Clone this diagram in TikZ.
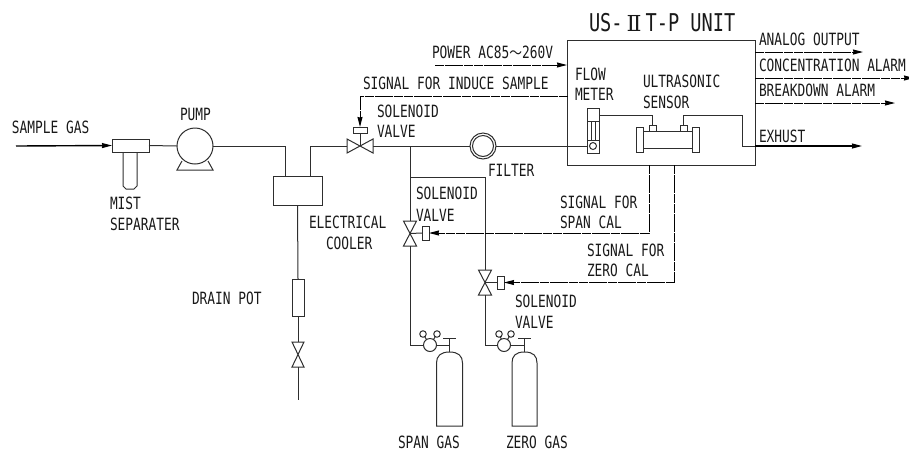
\documentclass[tikz,border=0pt]{standalone}
\usepackage{fontspec}
\usetikzlibrary{arrows.meta,calc}
\setmainfont{DejaVu Sans Mono}[FakeStretch=0.76]
\newfontfamily\cjkf{Noto Sans CJK JP}[FakeStretch=0.85]
\newfontfamily\romf{DejaVu Serif}
\definecolor{ink}{gray}{0.18}
\tikzset{
  lw/.style={line width=1pt,draw=ink},
  thick line/.style={line width=1.4pt,draw=black},
  sig/.style={line width=1pt,draw=black,dash pattern=on 9pt off 0.7pt},
  tip/.style={-{Stealth[length=10pt,width=5pt,inset=0.5pt]}},
  part/.style={lw,rectangle,inner sep=0pt,outer sep=0pt,fill=white},
  round part/.style={lw,circle,inner sep=0pt,outer sep=0pt,minimum size=#1,fill=white},
  lbl/.style={anchor=west,inner sep=0pt,outer sep=0pt,text=black!90,
     font=\fontsize{16.9pt}{17pt}\selectfont,text height=12pt,text depth=0pt},
  ttl/.style={anchor=west,inner sep=0pt,outer sep=0pt,text=black!90,
     font=\fontsize{24.5pt}{25pt}\selectfont,text height=17pt,text depth=0pt},
}
% horizontal and vertical valves
\newcommand{\valveH}[4]{\node[inner sep=0pt,outer sep=0pt,minimum width=#4,minimum height=14pt] (#1) at (#2,#3) {};
  \draw[lw] (#1.north west)--(#1.south west)--(#1.north east)--(#1.south east)--cycle;}
\newcommand{\valveV}[4]{\node[inner sep=0pt,outer sep=0pt,minimum width=#4,minimum height=25pt] (#1) at (#2,#3) {};
  \draw[lw] (#1.north west)--(#1.north east)--(#1.south west)--(#1.south east)--cycle;}
% bottle: regulator at x,345 with named parts
\newcommand{\bottle}[6]{% prefix, reg x, gauge L x, gauge R x, stem x, half width
  \node[round part=13pt] (#1reg) at (#2,345) {};
  \node[round part=6.5pt] (#1gl) at (#3,334) {};
  \node[round part=6.5pt] (#1gr) at (#4,334) {};
  \draw[lw] (#1gl) -- (#1reg);
  \draw[lw] (#1gr) -- (#1reg);
  \coordinate (#1top) at (#5,338);
  \coordinate (#1neck) at (#5,352);
  \coordinate (#1joint) at (#5,345);
  \draw[lw] (#1reg.east) -- (#1joint);
  \draw[lw] (#1top) -- (#1neck);
  \draw[lw] ($(#1top)+(-6.5,0)$) -- ($(#1top)+(6.5,0)$);
  \draw[lw] (#1neck) .. controls ($(#1neck)+(-9,0)$) and ($(#1neck)+(-#6,4)$) .. ($(#1neck)+(-#6,11)$)
     -- ($(#1neck)+(-#6,74)$) -- ($(#1neck)+(#6,74)$) -- ($(#1neck)+(#6,11)$)
     .. controls ($(#1neck)+(#6,4)$) and ($(#1neck)+(9,0)$) .. (#1neck);
}
\begin{document}
\begin{tikzpicture}[x=1pt,y=-1pt]
\useasboundingbox (0,0) rectangle (909,451);

% --- left train
\coordinate (gasin) at (16,146);
\node[part,minimum width=37pt,minimum height=13pt] (mist) at (130.5,145.5) {};
\draw[lw] (123,152) -- (123,186) -- (126,189) -- (134,189) -- (137,186) -- (137,152);
\draw[thick line,tip] (gasin) -- (mist.west);

\node[round part=36pt] (pump) at (195,146) {};
\draw[lw] (182,161) -- (177,170) -- (213,170) -- (208,161);
\draw[lw] (mist.east) -- (pump.west);

\node[part,minimum width=49pt,minimum height=29pt] (cooler) at (297.5,190.5) {};
\coordinate (coolerin) at (285,176);
\coordinate (coolerout) at (310,176);
\valveH{v1}{360}{146}{26pt}
\draw[lw] (pump.east) -| (coolerin);
\draw[lw] (coolerout) |- (v1.west);

\node[part,minimum width=12pt,minimum height=37pt] (pot) at (298,297.5) {};
\valveV{vd}{298}{354.5}{12pt}
\coordinate (drainend) at (298,400);
\draw[lw] (cooler.south) -- (pot.north);
\draw[lw] (pot.south) -- (vd.north);
\draw[lw] (vd.south) -- (drainend);

% --- unit
\node[part,minimum width=188pt,minimum height=125pt] (unit) at (661,102.5) {};

% --- valve 1 actuator
\node[part,minimum width=14pt,minimum height=6pt] (a1) at (360,130) {};
\draw[lw] (a1.south) -- (v1.center);
\coordinate (s1) at (568,96);
\draw[sig,tip] (s1) -| (a1.north);

% --- filter and flow meter
\node[round part=26pt] (filter) at (483,146) {};
\node[round part=21pt] (filteri) at (483,146) {};
\node[part,minimum width=12pt,minimum height=45pt] (fm) at (593,130.5) {};
\draw[lw] (587,121) -- (599,121);
\draw[lw] (587,140) -- (599,140);
\draw[lw] (591,121) -- (591,140);
\draw[lw] (595,121) -- (595,140);
\node[round part=7pt] (fmc) at (593,146) {};
\coordinate (fmin) at (587,146);
\coordinate (fmout) at (599,115);
\draw[lw] (v1.east) -- (filter.west);
\draw[lw] (filter.east) -- (fmin);

% --- sensor
\node[part,minimum width=49pt,minimum height=17pt] (sens) at (667.5,139.5) {};
\node[part,minimum width=7pt,minimum height=25pt] (fl) at (639.5,139.5) {};
\node[part,minimum width=7pt,minimum height=25pt] (fr) at (695.5,139.5) {};
\node[part,minimum width=7pt,minimum height=6pt] (p1) at (652.5,128) {};
\node[part,minimum width=7pt,minimum height=6pt] (p2) at (683.5,128) {};
\coordinate (ex) at (862,146);
\coordinate (exb) at (742,115);
\coordinate (exc) at (742,146);
\draw[lw] (fmout) -| (p1.north);
\draw[lw] (p2.north) |- (exb) -- (exc) -- (unit.east |- exc);
\draw[thick line,tip] (unit.east |- exc) -- (ex);

% --- outputs and power
\coordinate (po) at (435,65);
\draw[sig,tip] (po) -- (unit.west |- po);
\coordinate (o1) at (863,52);
\coordinate (o2) at (914,78);
\coordinate (o3) at (895,103);
\draw[sig,tip] (unit.east |- o1) -- (o1);
\draw[sig,tip] (unit.east |- o2) -- (o2);
\draw[sig,tip] (unit.east |- o3) -- (o3);

% --- branch and lower valves
\coordinate (bj) at (410,146);
\coordinate (bt) at (410,177);
\coordinate (bc) at (485,177);
\valveV{v2}{410}{233.5}{13pt}
\valveV{v3}{485}{282.5}{13pt}
\node[part,minimum width=7pt,minimum height=14pt] (a2) at (425.5,233) {};
\node[part,minimum width=7pt,minimum height=13pt] (a3) at (500.5,282.5) {};
\draw[lw] (v2.center) -- (a2.west);
\draw[lw] (v3.center) -- (a3.west);
\draw[lw] (bj) -- (v2.north);
\draw[lw] (bt) -- (bc) -- (v3.north);
\coordinate (u2) at (649,165);
\coordinate (u3) at (674,165);
\draw[sig,tip] (u2) |- (a2.east);
\draw[sig,tip] (u3) |- (a3.east);

\bottle{sp}{430}{423}{437}{449.5}{13}
\bottle{ze}{504}{499}{511}{524.5}{12.5}
\draw[lw] (v2.south) |- (spreg.west);
\draw[lw] (v3.south) |- (zereg.west);

% --- labels
\node[lbl] (t1) at (12,127) {SAMPLE GAS};
\node[lbl] (t2) at (180,114) {PUMP};
\node[lbl] (t3) at (110,203) {MIST};
\node[lbl] (t4) at (110,224) {SEPARATER};
\node[lbl] (t5) at (309,222) {ELECTRICAL};
\node[lbl] (t6) at (326,243) {COOLER};
\node[lbl] (t7) at (192,298) {DRAIN POT};
\node[lbl] (t8) at (432,52) {POWER AC85{\cjkf\fontsize{15pt}{15pt}\selectfont ～}260V};
\node[lbl] (t9) at (363,83) {SIGNAL FOR INDUCE SAMPLE};
\node[lbl] (t10) at (377,111) {SOLENOID};
\node[lbl] (t11) at (377,131) {VALVE};
\node[lbl] (t12) at (488,170) {FILTER};
\node[lbl] (t13) at (575,74) {FLOW};
\node[lbl] (t14) at (575,94) {METER};
\node[lbl] (t15) at (643,81) {ULTRASONIC};
\node[lbl] (t16) at (643,102) {SENSOR};
\node[ttl] (t17) at (589,23) {US-\kern4pt{\romf\fontsize{22pt}{22pt}\selectfont Ⅱ}\kern4pt T-P UNIT};
\node[lbl] (t18) at (759,39) {ANALOG OUTPUT};
\node[lbl] (t19) at (759,65) {CONCENTRATION ALARM};
\node[lbl] (t20) at (759,90) {BREAKDOWN ALARM};
\node[lbl] (t21) at (759,136) {EXHUST};
\node[lbl] (t22) at (416,193) {SOLENOID};
\node[lbl] (t23) at (416,215) {VALVE};
\node[lbl] (t24) at (560,202) {SIGNAL FOR};
\node[lbl] (t25) at (560,222) {SPAN CAL};
\node[lbl] (t26) at (587,250) {SIGNAL FOR};
\node[lbl] (t27) at (587,270) {ZERO CAL};
\node[lbl] (t28) at (515,301) {SOLENOID};
\node[lbl] (t29) at (515,322) {VALVE};
\node[lbl] (t30) at (398,442) {SPAN GAS};
\node[lbl] (t31) at (506,442) {ZERO GAS};
\end{tikzpicture}
\end{document}
